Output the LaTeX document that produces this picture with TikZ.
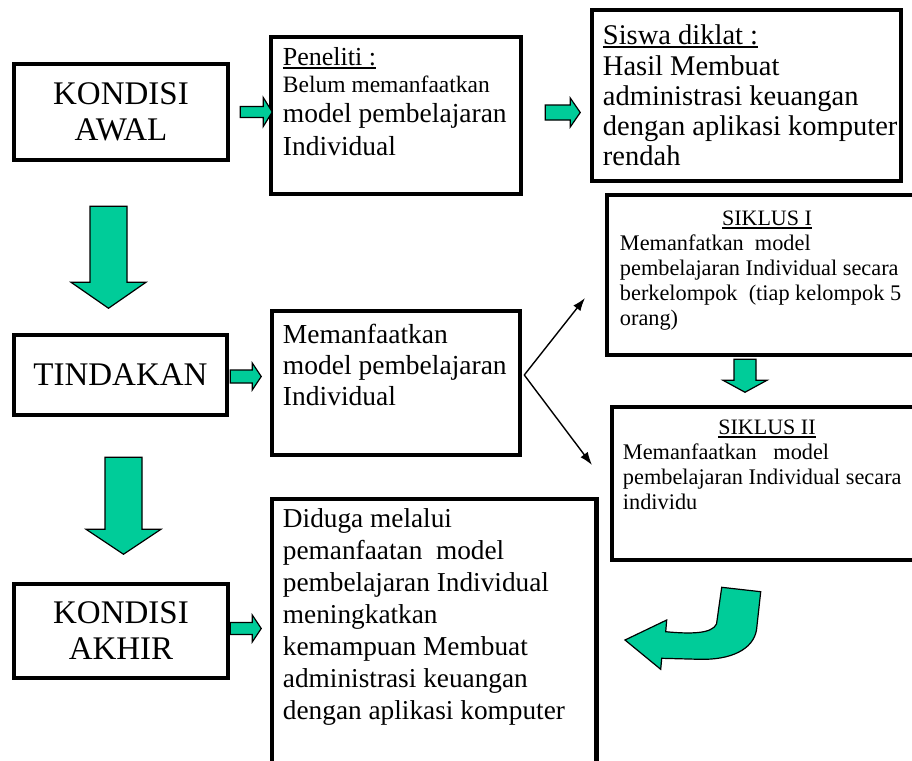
\documentclass[tikz,border=0pt]{standalone}
\usepackage{fontspec}
\setmainfont{Liberation Serif}
\usetikzlibrary{calc,arrows.meta}
\definecolor{arrowgreen}{RGB}{0,204,153}
% one line of a stacked text block: #1 = distance from the previous baseline
\newcommand\tline[2]{\baselineskip=#1pt\hbox{#2}}
\newcommand\fs[1]{\fontsize{#1}{#1}\selectfont}
% underline drawn just below the baseline
\newcommand\undl[1]{\setbox0\hbox{#1}\rlap{\rule[-3pt]{\wd0}{1.6pt}}\box0}
\tikzset{
  frame/.style={draw=black, line width=4.5pt, fill=white, inner sep=0pt},
  txt/.style={anchor=base west, inner sep=0pt},
  blk/.style={fill=arrowgreen, draw=black, line width=1.2pt, line join=miter},
  branch/.style={line width=1.4pt, -{Latex[length=13pt,width=9pt]}},
  pics/blockarrow/.style n args={4}{code={%
    \filldraw[blk] (0,-#2) -- (#1-#4,-#2) -- (#1-#4,-#3) -- (#1,0)
      -- (#1-#4,#3) -- (#1-#4,#2) -- (0,#2) -- cycle;}},
}
\begin{document}
\begin{tikzpicture}[x=1pt, y=-1pt]
\useasboundingbox (0,0) rectangle (912,760);
\fill[white] (0,0) rectangle (912,760);
\begin{scope}
\clip (0,0) rectangle (912,760);

% left column
\node[frame, minimum width=214pt, minimum height=96pt] (awal) at (121,112) {};
\node[frame, minimum width=213pt, minimum height=80pt] (tind) at (120.5,375) {};
\node[frame, minimum width=214pt, minimum height=94pt] (akhir) at (121,631) {};
\node[align=center, inner sep=0pt, font=\fontsize{33}{36}\selectfont] (awaltxt) at (awal.center) {KONDISI\\AWAL};
\node[inner sep=0pt, font=\fs{33}] (tindtxt) at (tind.center) {TINDAKAN};
\node[align=center, inner sep=0pt, font=\fontsize{33}{36}\selectfont] (akhirtxt) at (akhir.center) {KONDISI\\AKHIR};

% middle column
\node[frame, minimum width=250pt, minimum height=157pt] (pen) at (396,115.5) {};
\node[frame, minimum width=248pt, minimum height=144pt] (mem) at (396,383) {};
\node[frame, minimum width=324.5pt, minimum height=291pt] (dug) at (434.25,644.5) {};

\node[txt, font=\fs{27.5}] (pentxt) at ($(pen.north west)+(14,31)$) {\vtop{%
  \tline{0}{\fs{26}\undl{Peneliti :}}%
  \tline{27}{\fs{23.5}Belum memanfaatkan}%
  \tline{30}{model pembelajaran}%
  \tline{33}{Individual}}};
\node[txt, font=\fs{27.5}] (memtxt) at ($(mem.north west)+(13,35)$) {\vtop{%
  \tline{0}{Memanfaatkan}%
  \tline{31}{model pembelajaran}%
  \tline{31}{Individual}}};
\node[txt, font=\fs{27.3}] (dugtxt) at ($(dug.north west)+(13,31)$) {\vtop{%
  \tline{0}{Diduga melalui}%
  \tline{32}{pemanfaatan\ \ model}%
  \tline{32}{pembelajaran Individual}%
  \tline{32}{meningkatkan}%
  \tline{32}{kemampuan Membuat}%
  \tline{32}{administrasi keuangan}%
  \tline{32}{dengan aplikasi komputer}}};

% right column
\node[frame, minimum width=309pt, minimum height=171pt] (siswa) at (746.5,95.5) {};
\node[frame, minimum width=320pt, minimum height=160pt] (s1) at (767,275) {};
\node[frame, minimum width=310pt, minimum height=153pt] (s2) at (767,483.5) {};

\node[txt, font=\fs{28.5}] (siswatxt) at ($(siswa.north west)+(13,37)$) {\vtop{%
  \tline{0}{\undl{Siswa diklat :}}%
  \tline{31}{Hasil Membuat}%
  \tline{30}{administrasi keuangan}%
  \tline{30}{dengan aplikasi komputer}%
  \tline{30}{rendah}}};
\node[anchor=base, inner sep=0pt, font=\fs{22}] (s1head) at ($(s1.north)+(0,33)$) {\undl{SIKLUS I}};
\node[txt, font=\fs{22.3}] (s1txt) at ($(s1.north west)+(15,58)$) {\vtop{%
  \tline{0}{Memanfatkan\ \ model}%
  \tline{25}{pembelajaran Individual secara}%
  \tline{25}{berkelompok\ \ (tiap kelompok 5}%
  \tline{25}{orang)}}};
\node[anchor=base, inner sep=0pt, font=\fs{22}] (s2head) at ($(s2.north)+(0,30)$) {\undl{SIKLUS II}};
\node[txt, font=\fs{22.3}] (s2txt) at ($(s2.north west)+(13,55)$) {\vtop{%
  \tline{0}{Memanfaatkan\ \ \ model}%
  \tline{25}{pembelajaran Individual secara}%
  \tline{25}{individu}}};

% block arrows
\pic at ($(awal.east)+(10,0)$) {blockarrow={32}{5.5}{14.5}{9}};
\pic at ($(pen.east)+(22,-3)$) {blockarrow={35}{7.5}{14.5}{10}};
\pic at ($(tind.east)+(1,1.5)$) {blockarrow={31}{6.5}{13.5}{9}};
\pic at ($(akhir.east)+(0,-2.5)$) {blockarrow={31}{6}{13.5}{9}};
\pic[rotate=-90] at ($(awal.south)+(-12.5,44)$) {blockarrow={102}{18.5}{37.5}{26}};
\pic[rotate=-90] at ($(tind.south)+(3,40)$) {blockarrow={97}{18.5}{37.5}{25}};
\pic[rotate=-90] at ($(s1.south)+(-22,2)$) {blockarrow={33}{11}{22}{12}};

% branching arrows towards the two cycles
\coordinate (fork) at ($(mem.east)+(2,-8)$);
\coordinate (s1in) at (585,298);
\coordinate (s2in) at (592,465);
\draw[branch] (fork) -- (s1in);
\draw[branch] (fork) -- (s2in);

% curved return arrow
\filldraw[blk] (625,640) -- (666.7,620) -- (665.7,631.7)
  .. controls (690,634) and (712,634) .. (716.5,624)
  -- (721.7,587.3) -- (760.7,591.7) -- (756.5,630)
  .. controls (753,650) and (730,660) .. (700,659.3)
  -- (661.7,658.3) -- (660.7,669.3) -- cycle;
\end{scope}
\end{tikzpicture}
\end{document}
